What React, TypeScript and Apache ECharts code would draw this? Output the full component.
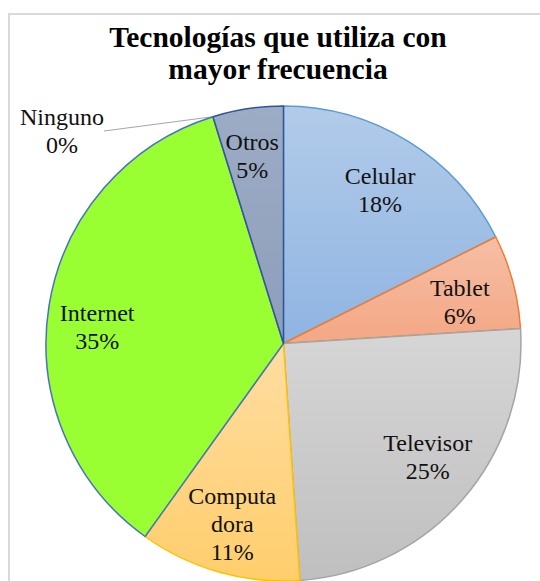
import React, { useEffect, useRef } from "react";
import * as echarts from "echarts";

const categories = ["Celular", "Tablet", "Televisor", "Computadora", "Internet", "Ninguno", "Otros"];
const values = [17.6, 6.4, 24.9, 11.0, 35.3, 0, 4.8];
const titleLine1 = "Tecnologías que utiliza con";
const titleLine2 = "mayor frecuencia";

const fillTop = ["#B2CBE9", "#F6BEA6", "#D6D6D6", "#FFDDA2", "#99FF33", "#9DACC5", "#9DACC5"];
const fillBottom = ["#8FB4E2", "#F4A784", "#BFBFBF", "#FFCE6C", "#99FF33", "#8D9EBB", "#8D9EBB"];
const borderColors = ["#5B9BD5", "#ED7D31", "#A5A5A5", "#FFC000", "#4472C4", "#A5A5A5", "#2F5597"];
// small per-label nudges (px) to mimic the original label placement
const labelNudgeX = [-2, -5, 3, 0, -1, 0, -3];
const labelNudgeY = [6, 7, -10, 0, 13, 0, -2];

const SERIF = "Liberation Serif";

function displayName(name: string): string {
  if (name === "Computadora") return "Computa\ndora";
  return name;
}

export default function App() {
  const ref = useRef<HTMLDivElement>(null);
  useEffect(() => {
    if (!ref.current) return;
    const chart = echarts.init(ref.current, null, { renderer: "svg" });
    const baseData = categories.map((name, i) => ({
      name,
      value: values[i],
      itemStyle: {
        color: new echarts.graphic.LinearGradient(0, 0, 0, 1, [
          { offset: 0, color: fillTop[i] },
          { offset: 1, color: fillBottom[i] },
        ]),
        borderColor: borderColors[i],
        borderWidth: 1.5,
      },
      label: name === "Ninguno" ? { show: true, position: "outside" as const } : { show: false },
      labelLine: name === "Ninguno" ? { show: true, length: 5, length2: 0, lineStyle: { color: "#A6A6A6", width: 1 } } : { show: false },
    }));
    const overlayData = categories.map((name, i) => ({
      name,
      value: values[i],
      label: { show: name !== "Ninguno" },
    }));
    const labelFormatter = (p: any) => `${displayName(p.name)}\n${Math.round(p.percent)}%`;
    const labelText = {
      fontFamily: SERIF,
      fontSize: 24,
      lineHeight: 28,
      color: "#111",
    };
    chart.setOption({
      animation: false,
      textStyle: { fontFamily: SERIF },
      title: {
        text: titleLine1,
        subtext: titleLine2,
        left: 278,
        top: 22,
        padding: 0,
        itemGap: 2,
        textAlign: "center",
        textVerticalAlign: "top",
        textStyle: { fontFamily: SERIF, fontWeight: "bold", fontSize: 29.5, color: "#000" },
        subtextStyle: { fontFamily: SERIF, fontWeight: "bold", fontSize: 29.5, color: "#000" },
      },
      graphic: [
        {
          type: "rect",
          shape: { x: 9, y: 14, width: 700, height: 700 },
          style: { fill: "none", stroke: "#D9D9D9", lineWidth: 2 },
          silent: true,
          z: -10,
        },
      ],
      series: [
        {
          type: "pie",
          center: [283.5, 343.5],
          radius: 237.5,
          startAngle: 90,
          clockwise: true,
          avoidLabelOverlap: false,
          silent: true,
          data: baseData,
          label: {
            formatter: labelFormatter,
            ...labelText,
            align: "center",
          },
          labelLayout: (params: any) => {
            if (params.dataIndex === 5) {
              return { x: 62, y: 131, align: "center", verticalAlign: "middle" };
            }
            return {};
          },
          emphasis: { disabled: true },
        },
        {
          type: "pie",
          center: [283.5, 343.5],
          radius: [132, 237.5],
          startAngle: 90,
          clockwise: true,
          avoidLabelOverlap: false,
          silent: true,
          z: 5,
          data: overlayData,
          itemStyle: { color: "rgba(0,0,0,0)", borderWidth: 0 },
          label: {
            position: "inside",
            formatter: labelFormatter,
            ...labelText,
            align: "center",
          },
          labelLayout: (params: any) => ({
            dx: labelNudgeX[params.dataIndex] || 0,
            dy: labelNudgeY[params.dataIndex] || 0,
          }),
          labelLine: { show: false },
          emphasis: { disabled: true },
        },
      ],
    });
    return () => chart.dispose();
  }, []);
  return (
    <div
      ref={ref}
      style={{ position: "fixed", left: 0, top: 0, width: 540, height: 581, background: "#fff" }}
    />
  );
}
